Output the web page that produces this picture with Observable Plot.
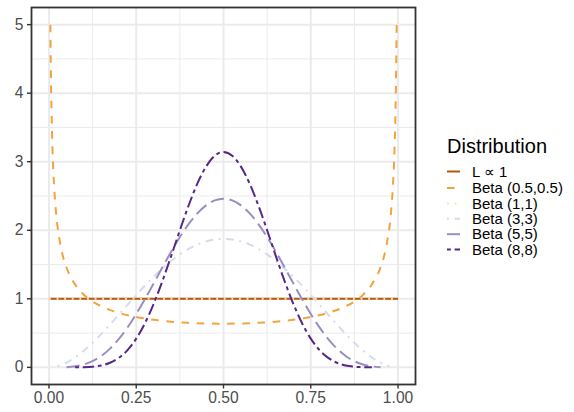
<!DOCTYPE html>
<html>
<head>
<meta charset="utf-8">
<script src="https://cdn.jsdelivr.net/npm/d3@7"></script>
<script src="https://cdn.jsdelivr.net/npm/@observablehq/plot@0.6"></script>
<style>
  html, body { margin: 0; padding: 0; background: white; }
  #wrap { position: relative; width: 574px; height: 412px; }
  #legend { position: absolute; left: 440px; top: 130px; }
</style>
</head>
<body>
<div id="wrap"></div>
<script>
// ---- data ----
const seriesNames = ["L \u221d 1", "Beta (0.5,0.5)", "Beta (1,1)", "Beta (3,3)", "Beta (5,5)", "Beta (8,8)"];
const xFlat = [0, 1];
const yL = [1, 1];
const yB11 = [1, 1];
const xU = [0.004, 0.005, 0.006, 0.008, 0.01, 0.015, 0.02, 0.03, 0.04, 0.05, 0.075, 0.1, 0.15, 0.2, 0.25, 0.3, 0.35, 0.4, 0.45, 0.5,
            0.55, 0.6, 0.65, 0.7, 0.75, 0.8, 0.85, 0.9, 0.925, 0.95, 0.96, 0.97, 0.98, 0.985, 0.99, 0.992, 0.994, 0.995, 0.996];
const yU = [5.0, 4.51, 4.12, 3.57, 3.20, 2.62, 2.27, 1.87, 1.62, 1.46, 1.21, 1.06, 0.891, 0.796, 0.735, 0.695, 0.667, 0.650, 0.640, 0.637,
            0.640, 0.650, 0.667, 0.695, 0.735, 0.796, 0.891, 1.06, 1.21, 1.46, 1.62, 1.87, 2.27, 2.62, 3.20, 3.57, 4.12, 4.51, 5.0];
const xBell = [0.025, 0.05, 0.075, 0.1, 0.125, 0.15, 0.175, 0.2, 0.225, 0.25, 0.275, 0.3, 0.325, 0.35, 0.375, 0.4, 0.425, 0.45, 0.475, 0.5,
               0.525, 0.55, 0.575, 0.6, 0.625, 0.65, 0.675, 0.7, 0.725, 0.75, 0.775, 0.8, 0.825, 0.85, 0.875, 0.9, 0.925, 0.95, 0.975];
const yB33 = [0.0178, 0.0677, 0.1444, 0.243, 0.3589, 0.4877, 0.6253, 0.768, 0.9122, 1.0547, 1.1925, 1.323, 1.4438, 1.5527, 1.6479, 1.728, 1.7916, 1.8377, 1.8656, 1.875,
              1.8656, 1.8377, 1.7916, 1.728, 1.6479, 1.5527, 1.4438, 1.323, 1.1925, 1.0547, 0.9122, 0.768, 0.6253, 0.4877, 0.3589, 0.243, 0.1444, 0.0677, 0.0178];
const yB55 = [null, 0.0032, 0.0146, 0.0413, 0.0902, 0.1665, 0.2737, 0.4129, 0.5825, 0.7787, 0.9954, 1.2252, 1.4591, 1.6876, 1.901, 2.0902, 2.2468, 2.3639, 2.4364, 2.4609,
              2.4364, 2.3639, 2.2468, 2.0902, 1.901, 1.6876, 1.4591, 1.2252, 0.9954, 0.7787, 0.5825, 0.4129, 0.2737, 0.1665, 0.0902, 0.0413, 0.0146, 0.0032, null];
const yB88 = [null, null, 0.0004, 0.0025, 0.0096, 0.0282, 0.0673, 0.1382, 0.2524, 0.4194, 0.6446, 0.9272, 1.2588, 1.6237, 2.0, 2.3611, 2.6794, 2.9286, 3.0875, 3.1421,
              3.0875, 2.9286, 2.6794, 2.3611, 2.0, 1.6237, 1.2588, 0.9272, 0.6446, 0.4194, 0.2524, 0.1382, 0.0673, 0.0282, 0.0096, 0.0025, 0.0004, null, null];
const xTicks = [0, 0.25, 0.5, 0.75, 1];
const xMinor = [0.125, 0.375, 0.625, 0.875];
const yTicks = [0, 1, 2, 3, 4, 5];
const yMinor = [0.5, 1.5, 2.5, 3.5, 4.5];

// ---- styles ----
const colors = ["#b35806", "#f1a340", "#fee0b6", "#d8daeb", "#998ec3", "#542788"];
const dashes = [null, "7.6,7.6", "1.9,5.7", "1.9,5.7,7.6,5.7", "13.3,5.7", "3.8,3.8,11.4,3.8"];
const seriesX = [xFlat, xU, xFlat, xBell, xBell, xBell];
const seriesY = [yL, yU, yB11, yB33, yB55, yB88];

const lineMarks = seriesNames.map((name, i) => {
  const rows = seriesX[i].map((x, j) => ({x, y: seriesY[i][j], series: name}));
  return Plot.line(rows, {
    x: "x", y: "y",
    stroke: colors[i], strokeWidth: 2,
    strokeDasharray: dashes[i] || undefined,
    strokeLinecap: "butt",
    curve: "monotone-x"
  });
});

const font = "'Liberation Sans', Arial, Helvetica, sans-serif";

const chart = Plot.plot({
  width: 574, height: 412,
  marginLeft: 31, marginRight: 159, marginTop: 7, marginBottom: 28,
  x: {domain: [-0.05, 1.05]},
  y: {domain: [-0.25, 5.25]},
  style: {fontFamily: font, fontSize: "15.6px", background: "white", overflow: "visible"},
  marks: [
    Plot.ruleX(xMinor, {stroke: "#EBEBEB", strokeWidth: 1}),
    Plot.ruleY(yMinor, {stroke: "#EBEBEB", strokeWidth: 1}),
    Plot.ruleX(xTicks, {stroke: "#EBEBEB", strokeWidth: 2}),
    Plot.ruleY(yTicks, {stroke: "#EBEBEB", strokeWidth: 2}),
    ...lineMarks,
    Plot.axisX(xTicks, {tickFormat: d3.format(".2f"), tickSize: 4.5, tickPadding: 3, stroke: "#333", strokeWidth: 1.4, fill: "#4D4D4D", label: null, fontSize: 15.6}),
    Plot.axisY(yTicks, {tickFormat: d3.format("d"), tickSize: 4, tickPadding: 4, stroke: "#333", strokeWidth: 1.4, fill: "#4D4D4D", label: null, fontSize: 15.6}),
    Plot.frame({stroke: "#333", strokeWidth: 1.8})
  ]
});
const wrap = document.getElementById("wrap");
wrap.appendChild(chart);

// ---- legend ----
const ns = "http://www.w3.org/2000/svg";
const lg = document.createElementNS(ns, "svg");
lg.setAttribute("id", "legend");
lg.setAttribute("width", 134);
lg.setAttribute("height", 135);
lg.style.fontFamily = font;
const title = document.createElementNS(ns, "text");
title.setAttribute("x", 7);
title.setAttribute("y", 22.7);
title.setAttribute("font-size", "20px");
title.setAttribute("fill", "black");
title.textContent = "Distribution";
lg.appendChild(title);
const rowY = [41.5, 58, 73.4, 88.8, 104.2, 119.6];
seriesNames.forEach((name, i) => {
  const cy = rowY[i];
  const ln = document.createElementNS(ns, "line");
  ln.setAttribute("x1", 7); ln.setAttribute("x2", 20);
  ln.setAttribute("y1", cy); ln.setAttribute("y2", cy);
  ln.setAttribute("stroke", colors[i]);
  ln.setAttribute("stroke-width", 2);
  if (dashes[i]) ln.setAttribute("stroke-dasharray", dashes[i]);
  lg.appendChild(ln);
  const t = document.createElementNS(ns, "text");
  t.setAttribute("x", 32);
  t.setAttribute("y", cy);
  t.setAttribute("dy", "0.35em");
  t.setAttribute("font-size", "15px");
  t.setAttribute("fill", "black");
  t.textContent = name;
  lg.appendChild(t);
});
wrap.appendChild(lg);
</script>
</body>
</html>
